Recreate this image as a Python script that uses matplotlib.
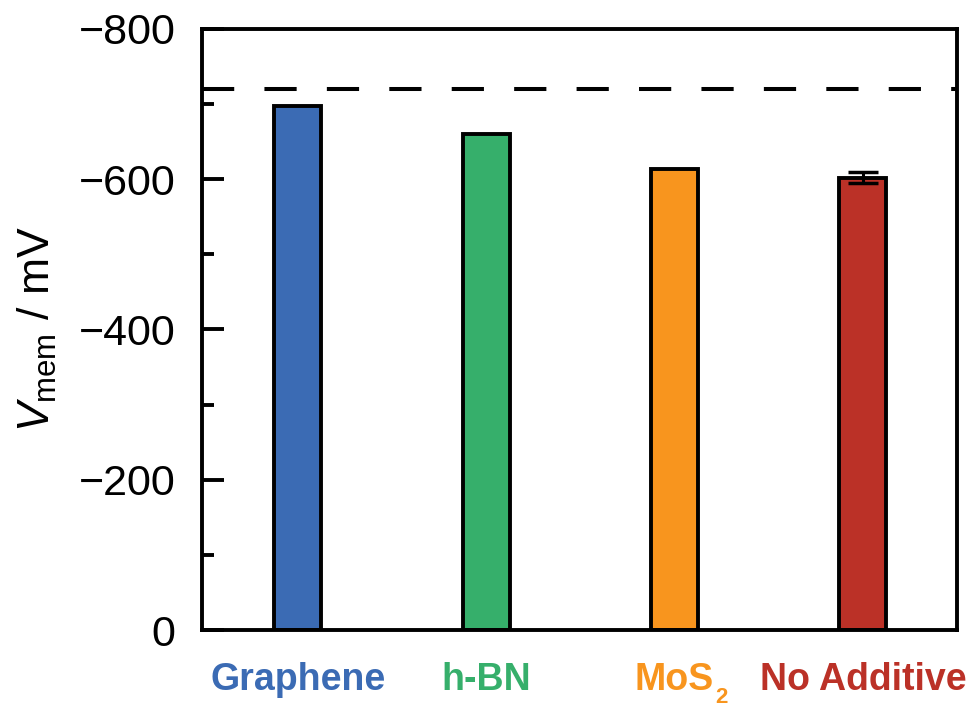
import matplotlib.pyplot as plt
import numpy as np

plt.rcParams['font.family'] = ['Liberation Sans', 'DejaVu Sans']
plt.rcParams['mathtext.fontset'] = 'custom'
plt.rcParams['mathtext.rm'] = 'Liberation Sans'
plt.rcParams['mathtext.it'] = 'Liberation Sans:italic'

# data
labels = ['Graphene', 'h-BN', 'MoS', 'No Additive']
values = [-697, -660, -613, -602]
errors = [0, 0, 0, 7]
colors = ['#3B6BB4', '#36AF6B', '#F8951E', '#BB3127']
ref_level = -720

fig = plt.figure(figsize=(9.67, 7.08), dpi=100)
ax = fig.add_axes([0.2086, 0.110, 0.7811, 0.8495])

x = np.arange(len(labels))
ax.bar(x, values, width=0.25, color=colors, edgecolor='black', linewidth=2.8, zorder=2)
# only the last bar has a visible error bar
ax.errorbar(x[3], values[3], yerr=errors[3], fmt='none', ecolor='black',
            elinewidth=2.2, capsize=11, capthick=2.5, zorder=3)

ax.axhline(ref_level, color='black', linewidth=2.9, dashes=(8, 7.5), zorder=1)

ax.set_xlim(-0.51, 3.5)
ax.set_ylim(0, -800)
ax.set_yticks([0, -200, -400, -600, -800])
ax.set_yticks(np.arange(-700, 0, 200), minor=True)
ax.tick_params(axis='y', which='major', direction='in', length=16, width=2.8,
               labelsize=31, pad=19)
ax.tick_params(axis='y', which='minor', direction='in', length=8.5, width=2.8)
ax.set_xticks(x)
ax.set_xticklabels(labels, fontsize=27, fontweight='bold')
ax.tick_params(axis='x', length=0, pad=23)
for t, c in zip(ax.get_xticklabels(), colors):
    t.set_color(c)

# subscript 2 of MoS2 sits below the baseline
mos = ax.get_xticklabels()[2]
ax.annotate('2', xy=(1, 0), xycoords=mos, xytext=(1, 8), textcoords='offset points',
            ha='left', va='top', fontsize=16, fontweight='bold', color=colors[2])

for s in ax.spines.values():
    s.set_linewidth(2.8)

ax.set_ylabel(r'$V_{\mathrm{mem}}$ / mV', fontsize=32, labelpad=14)

fig.savefig('out.png', dpi=100)
